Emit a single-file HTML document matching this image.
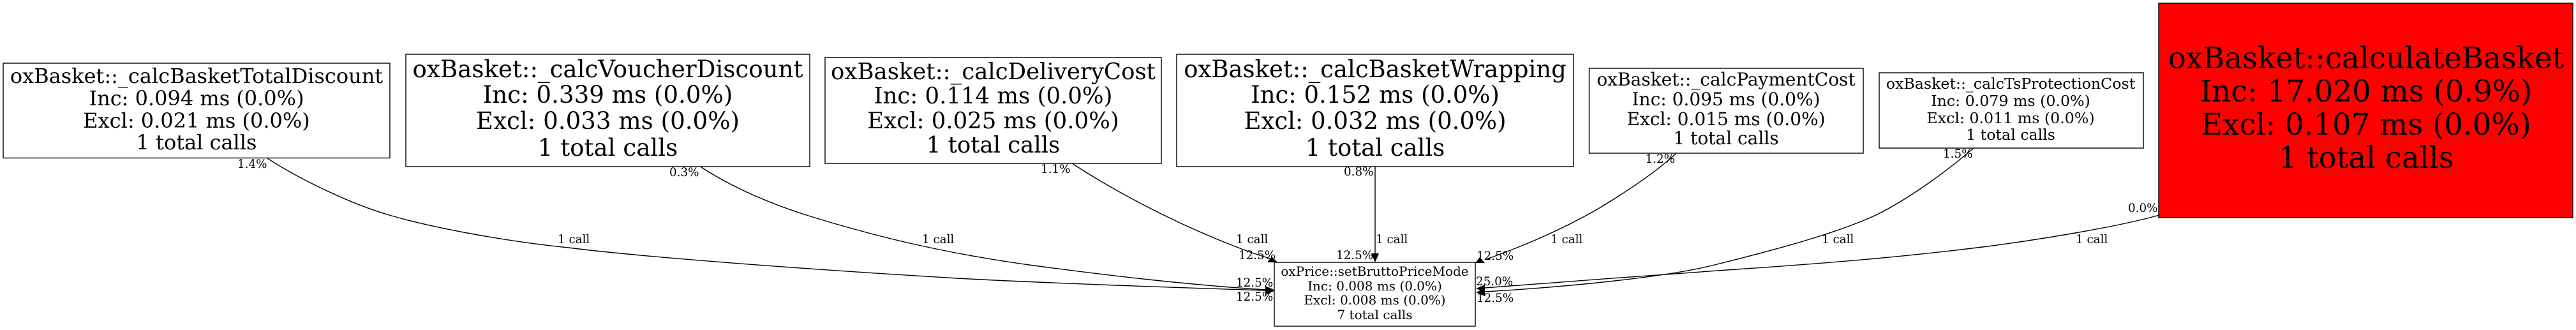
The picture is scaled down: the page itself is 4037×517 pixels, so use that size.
<!DOCTYPE html>
<html><head><meta charset="utf-8"><title>Call graph</title>
<style>html,body{margin:0;padding:0;background:#fff}svg{display:block}
text{font-family:"DejaVu Serif",serif;fill:#000;text-anchor:middle}
.l{font-size:18.3px;text-anchor:start}
.e{fill:none;stroke:#000;stroke-width:1.4}
rect{stroke:#000;stroke-width:1.4;fill:#fff}</style></head><body>
<svg xmlns="http://www.w3.org/2000/svg" width="4037" height="517" viewBox="0 0 4037 517">
<rect x="0" y="0" width="4037" height="517" style="stroke:none"/>
<path class="e" d="M419 248C465 278 545 318 610 337C675 356 790 378 891 388C1000 402 1250 421 1500 436C1650 444 1830 450 1983 455"/>
<path class="e" d="M1099 262C1150 295 1210 320 1267 338C1370 370 1480 397 1620 416C1740 432 1860 446 1983 454"/>
<path class="e" d="M1680 256C1740 295 1830 345 1933 385C1950 392 1970 399 1990 405"/>
<path class="e" d="M2155 261L2155 397"/>
<path class="e" d="M2627 240C2597 268 2553 298 2503 328C2440 364 2380 388 2327 407"/>
<path class="e" d="M3093 232C3045 273 2990 312 2940 337C2880 364 2800 387 2687 415C2620 432 2480 448 2327 457"/>
<path class="e" d="M3384 337C3320 355 3200 375 3107 387C3000 400 2900 410 2720 422C2600 430 2450 442 2327 451"/>
<polygon points="1997,454 1983,448 1983,461"/><polygon points="1997,456 1983,449 1983,462"/>
<polygon points="1993,402 1986,411 2002,411"/>
<polygon points="2149,397 2161,397 2155,411"/>
<polygon points="2312,412 2319,403 2327,412"/>
<polygon points="2313,452 2327,446 2327,458"/><polygon points="2313,458 2327,452 2327,464"/>
<rect x="5" y="99" width="606" height="148.5"/>
<text x="308" y="130" font-size="32">oxBasket::_calcBasketTotalDiscount</text>
<text x="308" y="165" font-size="32">Inc: 0.094 ms (0.0%)</text>
<text x="308" y="200" font-size="32">Excl: 0.021 ms (0.0%)</text>
<text x="308" y="234" font-size="32">1 total calls</text>
<rect x="636" y="85" width="633" height="176"/>
<text x="952.5" y="121" font-size="37.2">oxBasket::_calcVoucherDiscount</text>
<text x="952.5" y="161" font-size="37.2">Inc: 0.339 ms (0.0%)</text>
<text x="952.5" y="202" font-size="37.2">Excl: 0.033 ms (0.0%)</text>
<text x="952.5" y="244" font-size="37.2">1 total calls</text>
<rect x="1293" y="90" width="527" height="166"/>
<text x="1556.5" y="124" font-size="35.5">oxBasket::_calcDeliveryCost</text>
<text x="1556.5" y="162" font-size="35.5">Inc: 0.114 ms (0.0%)</text>
<text x="1556.5" y="201" font-size="35.5">Excl: 0.025 ms (0.0%)</text>
<text x="1556.5" y="239" font-size="35.5">1 total calls</text>
<rect x="1844" y="85" width="622" height="176"/>
<text x="2155" y="121" font-size="37">oxBasket::_calcBasketWrapping</text>
<text x="2155" y="161" font-size="37">Inc: 0.152 ms (0.0%)</text>
<text x="2155" y="202" font-size="37">Excl: 0.032 ms (0.0%)</text>
<text x="2155" y="244" font-size="37">1 total calls</text>
<rect x="2490.5" y="107" width="429.5" height="133"/>
<text x="2705" y="134" font-size="28">oxBasket::_calcPaymentCost</text>
<text x="2705" y="165" font-size="28">Inc: 0.095 ms (0.0%)</text>
<text x="2705" y="196" font-size="28">Excl: 0.015 ms (0.0%)</text>
<text x="2705" y="226" font-size="28">1 total calls</text>
<rect x="2945" y="114" width="414" height="118"/>
<text x="3151" y="139" font-size="23.7">oxBasket::_calcTsProtectionCost</text>
<text x="3151" y="166" font-size="23.7">Inc: 0.079 ms (0.0%)</text>
<text x="3151" y="193" font-size="23.7">Excl: 0.011 ms (0.0%)</text>
<text x="3151" y="219" font-size="23.7">1 total calls</text>
<rect x="3383" y="5" width="649" height="336" style="fill:#f00"/>
<text x="3708" y="107" font-size="46.6">oxBasket::calculateBasket</text>
<text x="3708" y="159" font-size="46.6">Inc: 17.020 ms (0.9%)</text>
<text x="3708" y="211" font-size="46.6">Excl: 0.107 ms (0.0%)</text>
<text x="3708" y="263" font-size="46.6">1 total calls</text>
<rect x="1997" y="411" width="315" height="100"/>
<text x="2154.5" y="432" font-size="20">oxPrice::setBruttoPriceMode</text>
<text x="2154.5" y="455" font-size="20">Inc: 0.008 ms (0.0%)</text>
<text x="2154.5" y="477" font-size="20">Excl: 0.008 ms (0.0%)</text>
<text x="2154.5" y="500" font-size="20">7 total calls</text>
<text class="l" x="372" y="263">1.4%</text>
<text class="l" x="1049" y="276">0.3%</text>
<text class="l" x="1631" y="271">1.1%</text>
<text class="l" x="2106" y="275">0.8%</text>
<text class="l" x="2578.5" y="255">1.2%</text>
<text class="l" x="3045" y="247">1.5%</text>
<text class="l" x="3335" y="332">0.0%</text>
<text class="l" x="874" y="381">1 call</text>
<text class="l" x="1445" y="381">1 call</text>
<text class="l" x="1937" y="381">1 call</text>
<text class="l" x="2156" y="381">1 call</text>
<text class="l" x="2430" y="381">1 call</text>
<text class="l" x="2855" y="381">1 call</text>
<text class="l" x="3253" y="381">1 call</text>
<text class="l" x="1941" y="406">12.5%</text>
<text class="l" x="2094" y="406">12.5%</text>
<text class="l" x="1937" y="449">12.5%</text>
<text class="l" x="1937" y="471">12.5%</text>
<text class="l" x="2314" y="407">12.5%</text>
<text class="l" x="2313" y="447">25.0%</text>
<text class="l" x="2314" y="473">12.5%</text>
</svg></body></html>
